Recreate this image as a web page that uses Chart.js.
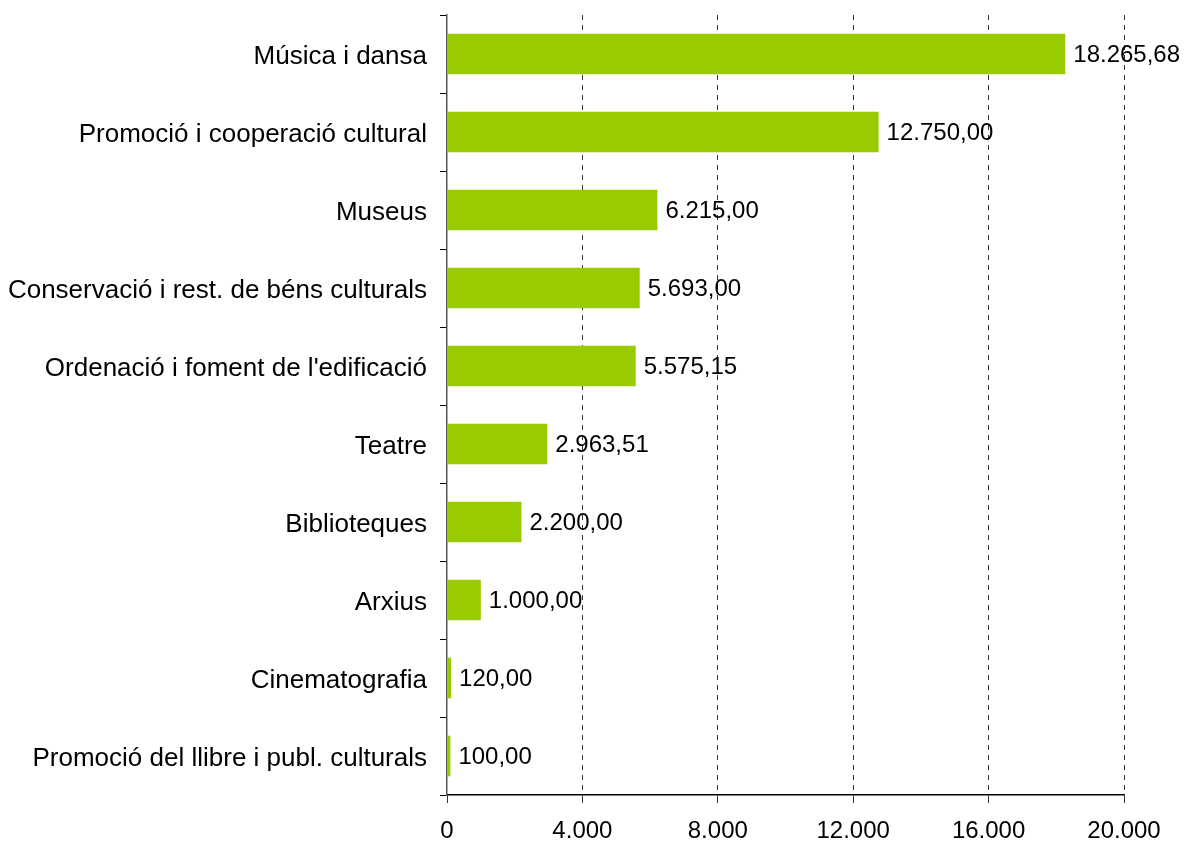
<!DOCTYPE html>
<html>
<head>
<meta charset="utf-8">
<script src="https://cdn.jsdelivr.net/npm/chart.js@4"></script>
<style>
  html, body { margin: 0; padding: 0; background: #ffffff; }
  #wrap { width: 1185px; height: 846px; }
</style>
</head>
<body>
<div id="wrap"><canvas id="barChart"></canvas></div>
<script>
// Chart data
const categories = [
  "Música i dansa",
  "Promoció i cooperació cultural",
  "Museus",
  "Conservació i rest. de béns culturals",
  "Ordenació i foment de l'edificació",
  "Teatre",
  "Biblioteques",
  "Arxius",
  "Cinematografia",
  "Promoció del llibre i publ. culturals"
];
const amounts = [18265.68, 12750.00, 6215.00, 5693.00, 5575.15, 2963.51, 2200.00, 1000.00, 120.00, 100.00];
const xTicks = [0, 4000, 8000, 12000, 16000, 20000];

const barColor = "#99cc00";
const fontFamily = "'Liberation Sans', Arial, Helvetica, sans-serif";

// 18265.68 -> "18.265,68"
function formatNumber(value, decimals) {
  const parts = value.toFixed(decimals).split(".");
  const intPart = parts[0].replace(/\B(?=(\d{3})+(?!\d))/g, ".");
  return parts.length > 1 ? intPart + "," + parts[1] : intPart;
}

// Value labels at the end of each bar
const valueLabels = {
  id: "valueLabels",
  afterDatasetsDraw(chart) {
    const ctx = chart.ctx;
    const meta = chart.getDatasetMeta(0);
    ctx.save();
    ctx.font = "24px " + fontFamily;
    ctx.fillStyle = "#000000";
    ctx.textAlign = "left";
    ctx.textBaseline = "middle";
    meta.data.forEach((bar, i) => {
      ctx.fillText(formatNumber(amounts[i], 2), bar.x + 8, bar.y + 1);
    });
    ctx.restore();
  }
};

const ctx = document.getElementById("barChart");
new Chart(ctx, {
  type: "bar",
  data: {
    labels: categories,
    datasets: [
      {
        data: amounts,
        backgroundColor: barColor,
        borderWidth: 0,
        categoryPercentage: 1,
        barPercentage: 0.52
      }
    ]
  },
  options: {
    indexAxis: "y",
    responsive: true,
    maintainAspectRatio: false,
    animation: false,
    layout: {
      padding: { top: 15, right: 61, bottom: 0, left: 0 }
    },
    scales: {
      x: {
        min: 0,
        max: 20000,
        afterBuildTicks: function(scale) {
          scale.ticks = xTicks.map(v => ({ value: v }));
        },
        afterFit: function(scale) {
          scale.height = 51;
        },
        grid: {
          color: function(c) {
            return c.tick && c.tick.value === 0 ? "rgba(0,0,0,0)" : "#333333";
          },
          tickColor: "#333333",
          tickLength: 8,
          tickBorderDash: []
        },
        border: {
          display: true,
          color: "#000000",
          width: 1.5,
          dash: [5, 5]
        },
        ticks: {
          color: "#000000",
          padding: 14,
          font: { family: fontFamily, size: 24 },
          callback: function(value) {
            return formatNumber(value, 0);
          }
        }
      },
      y: {
        afterFit: function(scale) {
          scale.width = 447;
          scale.paddingTop = 0;
          scale.paddingBottom = 0;
        },
        grid: {
          offset: true,
          drawOnChartArea: false,
          tickLength: 7,
          tickColor: "#000000",
          tickBorderDash: []
        },
        border: {
          display: true,
          color: "#555555",
          width: 1.5
        },
        ticks: {
          color: "#000000",
          padding: 13,
          labelOffset: 3,
          font: { family: fontFamily, size: 26 }
        }
      }
    },
    plugins: {
      legend: { display: false },
      tooltip: { enabled: false }
    }
  },
  plugins: [valueLabels]
});
</script>
</body>
</html>
